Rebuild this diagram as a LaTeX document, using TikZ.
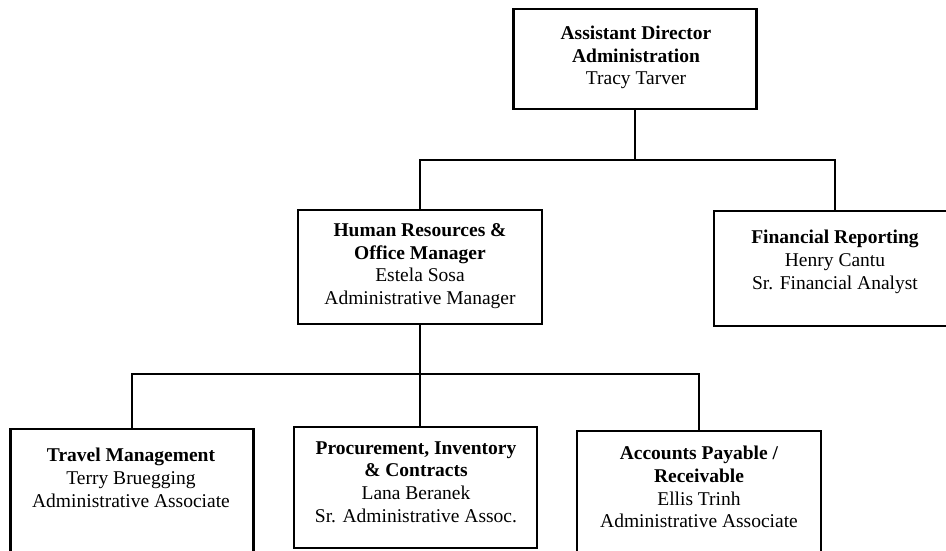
\documentclass[tikz,border=0pt]{standalone}
\usepackage{fontspec}
\setmainfont{Liberation Serif}
\begin{document}
\begin{tikzpicture}[x=1pt,y=-1pt,
  box/.style={draw=black, line width=2.6pt, rectangle, inner sep=0pt},
  txt/.style={align=center, font=\fontsize{19.5}{22.7}\selectfont, inner sep=0pt},
  conn/.style={draw=black, line width=2.6pt}]
\useasboundingbox (0,0) rectangle (946,550);
% boxes
\node[box, minimum width=243pt, minimum height=100pt] (top) at (635,59) {};
\node[box, minimum width=244pt, minimum height=114pt] (hr) at (420,267) {};
\node[box, minimum width=242pt, minimum height=115pt] (fin) at (835,268.5) {};
\node[box, minimum width=243pt, minimum height=123pt] (travel) at (132,490.5) {};
\node[box, minimum width=243pt, minimum height=121pt] (proc) at (415.5,487.5) {};
\node[box, minimum width=244pt, minimum height=121pt] (acct) at (699,491.5) {};
% texts
\node[txt] (topt) at (636,57.5) {\textbf{Assistant Director}\\\textbf{Administration}\\Tracy Tarver};
\node[txt] (hrt) at (420,266) {\textbf{Human Resources \&}\\\textbf{Office Manager}\\Estela Sosa\\Administrative Manager};
\node[txt] (fint) at (835,262) {\textbf{Financial Reporting}\\Henry Cantu\\Sr. Financial Analyst};
\node[txt] (travelt) at (131,478) {\textbf{Travel Management}\\Terry Bruegging\\Administrative Associate};
\node[txt] (proct) at (416,482) {\textbf{Procurement, Inventory}\\\textbf{\& Contracts}\\Lana Beranek\\Sr. Administrative Assoc.};
\node[txt] (acctt) at (699,487) {\textbf{Accounts Payable /}\\\textbf{Receivable}\\Ellis Trinh\\Administrative Associate};
% connectors
\coordinate (j1) at (634,160);
\coordinate (j2) at (420,374);
\draw[conn] (top.south) -- (top.south |- j1);
\draw[conn] (hr.north) |- (j1) -| (fin.north);
\draw[conn] (hr.south) -- (hr.south |- proc.north);
\draw[conn] (travel.north) |- (j2) -| (acct.north);
\end{tikzpicture}
\end{document}
